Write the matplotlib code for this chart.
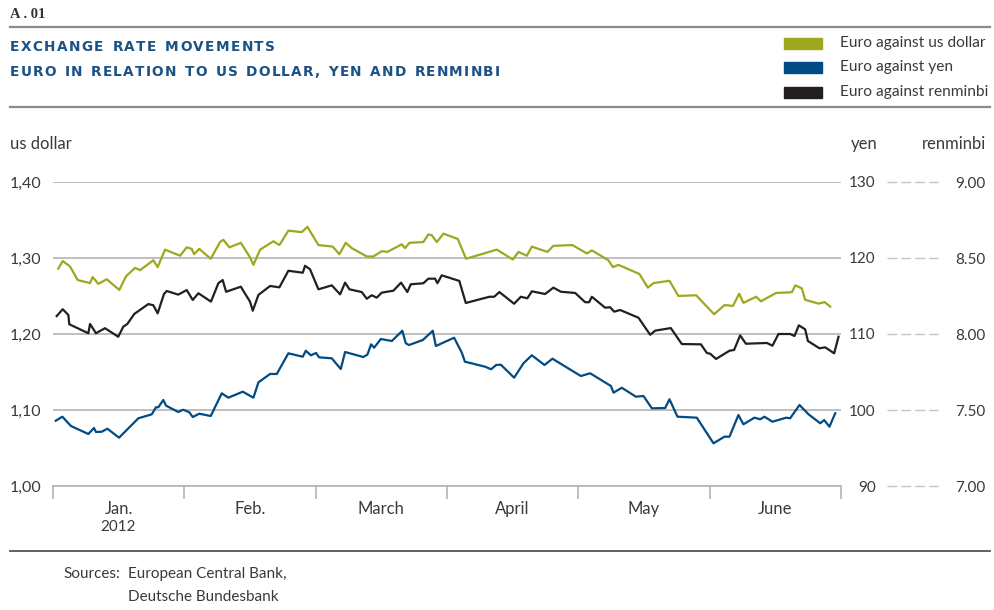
import matplotlib
matplotlib.use("Agg")
import matplotlib.pyplot as plt
import matplotlib.transforms as mtransforms
from matplotlib.patches import Rectangle
from matplotlib.lines import Line2D

# x positions in months from 1 Jan 2012 (0 = start of Jan, 6 = end of June)
x_usd = [0.040, 0.074, 0.129, 0.188, 0.282, 0.302, 0.345, 0.409, 0.505, 0.556,
         0.625, 0.663, 0.764, 0.797, 0.853, 0.967, 1.018, 1.056, 1.074, 1.114,
         1.201, 1.272, 1.297, 1.343, 1.430, 1.500, 1.526, 1.577, 1.678, 1.724,
         1.792, 1.894, 1.937, 2.021, 2.130, 2.180, 2.229, 2.275, 2.389, 2.439,
         2.503, 2.546, 2.656, 2.681, 2.714, 2.820, 2.858, 2.884, 2.922, 2.973,
         3.082, 3.145, 3.379, 3.501, 3.544, 3.608, 3.646, 3.765, 3.810, 3.955,
         4.065, 4.103, 4.229, 4.263, 4.305, 4.465, 4.529, 4.572, 4.694, 4.762,
         4.897, 5.034, 5.113, 5.177, 5.225, 5.257, 5.354, 5.390, 5.506, 5.626,
         5.652, 5.702, 5.727, 5.829, 5.875, 5.918]
usd = [1.286, 1.296, 1.289, 1.271, 1.267, 1.275, 1.266, 1.272, 1.258, 1.276,
       1.287, 1.284, 1.297, 1.288, 1.311, 1.303, 1.314, 1.312, 1.305, 1.312,
       1.299, 1.321, 1.324, 1.314, 1.320, 1.301, 1.291, 1.311, 1.322, 1.317,
       1.336, 1.334, 1.341, 1.317, 1.315, 1.305, 1.320, 1.313, 1.302, 1.302,
       1.309, 1.308, 1.318, 1.313, 1.320, 1.321, 1.331, 1.330, 1.321, 1.332,
       1.325, 1.299, 1.311, 1.298, 1.308, 1.303, 1.315, 1.308, 1.316, 1.317,
       1.306, 1.310, 1.297, 1.288, 1.291, 1.279, 1.261, 1.267, 1.270, 1.250,
       1.251, 1.226, 1.238, 1.237, 1.253, 1.241, 1.249, 1.243, 1.254, 1.255,
       1.264, 1.260, 1.245, 1.240, 1.242, 1.236]

x_jpy = [0.021, 0.071, 0.137, 0.269, 0.312, 0.327, 0.371, 0.414, 0.503, 0.650,
         0.752, 0.784, 0.802, 0.840, 0.861, 0.954, 0.992, 1.038, 1.064, 1.114,
         1.201, 1.285, 1.335, 1.445, 1.526, 1.564, 1.653, 1.704, 1.792, 1.902,
         1.925, 1.963, 2.003, 2.026, 2.123, 2.191, 2.224, 2.363, 2.394, 2.422,
         2.445, 2.496, 2.580, 2.660, 2.686, 2.711, 2.816, 2.892, 2.915, 3.054,
         3.113, 3.136, 3.290, 3.336, 3.374, 3.410, 3.511, 3.582, 3.646, 3.742,
         3.803, 4.019, 4.090, 4.248, 4.268, 4.331, 4.438, 4.496, 4.560, 4.661,
         4.694, 4.755, 4.902, 5.029, 5.113, 5.151, 5.219, 5.257, 5.341, 5.385,
         5.417, 5.478, 5.583, 5.613, 5.684, 5.753, 5.842, 5.872, 5.912, 5.956]
jpy = [98.59, 99.12, 97.89, 96.84, 97.63, 97.11, 97.14, 97.54, 96.36, 98.91,
       99.43, 100.36, 100.36, 101.32, 100.57, 99.74, 100.04, 99.70, 99.08, 99.51,
       99.21, 102.20, 101.62, 102.41, 101.62, 103.64, 104.74, 104.74, 107.46, 107.01,
       107.80, 107.20, 107.50, 106.93, 106.80, 105.39, 107.63, 106.97, 107.28, 108.64,
       108.20, 109.34, 109.08, 110.43, 108.78, 108.55, 109.21, 110.43, 108.42, 109.51,
       107.54, 106.36, 105.70, 105.36, 105.92, 105.96, 104.25, 106.14, 107.20, 105.92,
       106.75, 104.47, 104.83, 103.16, 102.28, 102.93, 101.75, 101.84, 100.22, 100.26,
       101.41, 99.12, 98.99, 95.62, 96.49, 96.49, 99.34, 98.12, 98.99, 98.78,
       99.12, 98.46, 98.99, 98.91, 100.66, 99.43, 98.25, 98.68, 97.80, 99.57]

x_cny = [0.028, 0.074, 0.117, 0.124, 0.269, 0.282, 0.327, 0.396, 0.497, 0.535,
         0.566, 0.619, 0.726, 0.764, 0.797, 0.845, 0.866, 0.954, 1.018, 1.064,
         1.107, 1.203, 1.259, 1.292, 1.318, 1.430, 1.500, 1.521, 1.564, 1.653,
         1.724, 1.792, 1.902, 1.919, 1.957, 2.021, 2.123, 2.186, 2.224, 2.257,
         2.351, 2.389, 2.427, 2.465, 2.503, 2.592, 2.650, 2.698, 2.724, 2.820,
         2.858, 2.909, 2.927, 2.960, 3.094, 3.143, 3.323, 3.359, 3.399, 3.511,
         3.562, 3.612, 3.646, 3.747, 3.810, 3.867, 3.976, 4.052, 4.082, 4.103,
         4.204, 4.242, 4.273, 4.318, 4.458, 4.547, 4.585, 4.704, 4.788, 4.933,
         4.979, 5.004, 5.049, 5.151, 5.186, 5.232, 5.276, 5.436, 5.478, 5.524,
         5.613, 5.646, 5.679, 5.727, 5.748, 5.836, 5.880, 5.948, 5.981]
cny = [8.118, 8.163, 8.125, 8.064, 8.005, 8.066, 8.005, 8.038, 7.982, 8.048,
       8.066, 8.132, 8.197, 8.189, 8.136, 8.263, 8.283, 8.259, 8.289, 8.224,
       8.268, 8.213, 8.334, 8.355, 8.278, 8.311, 8.213, 8.153, 8.257, 8.316,
       8.307, 8.416, 8.403, 8.449, 8.426, 8.294, 8.320, 8.261, 8.338, 8.294,
       8.276, 8.232, 8.255, 8.239, 8.272, 8.285, 8.338, 8.276, 8.327, 8.334,
       8.364, 8.364, 8.334, 8.386, 8.349, 8.204, 8.245, 8.245, 8.276, 8.199,
       8.245, 8.235, 8.281, 8.263, 8.305, 8.278, 8.270, 8.209, 8.209, 8.245,
       8.173, 8.176, 8.147, 8.158, 8.107, 7.995, 8.022, 8.039, 7.934, 7.932,
       7.875, 7.870, 7.836, 7.890, 7.895, 7.991, 7.936, 7.941, 7.923, 8.000,
       8.000, 7.987, 8.057, 8.031, 7.954, 7.906, 7.912, 7.873, 7.982]

months = ["Jan.", "Feb.", "March", "April", "May", "June"]
usd_ticks = [1.0, 1.1, 1.2, 1.3, 1.4]
usd_labels = ["1,00", "1,10", "1,20", "1,30", "1,40"]
jpy_ticks = [90, 100, 110, 120, 130]
cny_ticks = [7.0, 7.5, 8.0, 8.5, 9.0]
cny_labels = ["7.00", "7.50", "8.00", "8.50", "9.00"]
legend_labels = ["Euro against us dollar", "Euro against yen", "Euro against renminbi"]

GREEN = "#9da81e"
BLUE = "#004b84"
BLACK = "#231f20"
GRID = "#b4b4b4"
DASH = "#c4c4c4"
TXT = "#3a3a3a"
TITLE = "#1b5286"

plt.rcParams["font.family"] = ["Lato", "DejaVu Sans"]

W, H = 995, 610
fig = plt.figure(figsize=(W / 100, H / 100), dpi=100)


def fx(x):
    return x / W


def fy(y):
    return 1 - y / H


def spaced(x, y, s, target, **kw):
    # draw text char by char so the letter spacing matches the original width
    r = fig.canvas.get_renderer()
    arts, widths = [], []
    for ch in s:
        t = fig.text(0, fy(y), ch if ch != " " else "-", va="center", ha="left", **kw)
        w = t.get_window_extent(r).width
        if ch == " ":
            t.set_text("")
            w = w * 1.1
        arts.append(t)
        widths.append(w)
    gap = (target - sum(widths)) / (len(s) - 1)
    cx = x
    for t, w in zip(arts, widths):
        t.set_x(fx(cx))
        cx += w + gap


ax = fig.add_axes([fx(53), fy(486), fx(788), 304 / H])
ax_jpy = ax.twinx()
ax_cny = ax.twinx()

ax.plot(x_usd, usd, color=GREEN, lw=1.6)
ax_jpy.plot(x_jpy, jpy, color=BLUE, lw=1.6)
ax_cny.plot(x_cny, cny, color=BLACK, lw=1.6)

ax.set_xlim(0, 6)
ax.set_ylim(1.0, 1.4)
ax_jpy.set_ylim(90, 130)
ax_cny.set_ylim(7, 9)

for a in (ax, ax_jpy, ax_cny):
    for sp in a.spines.values():
        sp.set_visible(False)
ax.spines["bottom"].set_visible(True)
ax.spines["bottom"].set_color(GRID)
ax.spines["bottom"].set_linewidth(1.2)

ax.set_yticks(usd_ticks, labels=usd_labels)
ax.tick_params(axis="y", length=0, pad=31, labelsize=11.5, labelcolor=TXT)
for lb in ax.get_yticklabels():
    lb.set_horizontalalignment("left")
ax.yaxis.grid(True, color=GRID, lw=1.2)
ax.set_axisbelow(True)

ax_jpy.set_yticks(jpy_ticks)
ax_jpy.tick_params(axis="y", length=0, pad=25, labelsize=11, labelcolor=TXT)
for lb in ax_jpy.get_yticklabels():
    lb.set_horizontalalignment("right")

ax_cny.set_yticks(cny_ticks, labels=cny_labels)
ax_cny.tick_params(axis="y", length=0, pad=104, labelsize=11, labelcolor=TXT)
for lb in ax_cny.get_yticklabels():
    lb.set_horizontalalignment("right")

# dashed connectors between yen and renminbi scales
blend = mtransforms.blended_transform_factory(fig.transFigure, ax_jpy.transData)
for v in jpy_ticks:
    ax_jpy.add_line(Line2D([fx(887), fx(940)], [v, v], transform=blend, clip_on=False,
                           color=DASH, lw=1, ls=(0, (7, 3))))

ax.set_xticks(range(7), labels=[""] * 7)
ax.set_xticks([i + 0.5 for i in range(6)], labels=months, minor=True)
ax.tick_params(axis="x", which="major", length=9, width=1.2, color=GRID)
ax.tick_params(axis="x", which="minor", length=0, pad=10.5, labelsize=12, labelcolor=TXT)

fig.text(fx(118), fy(527), "2012", ha="center", va="center", fontsize=11, color=TXT)

# axis unit labels
fig.text(fx(10), fy(144), "us dollar", ha="left", va="center", fontsize=12, color=TXT)
fig.text(fx(864), fy(144), "yen", ha="center", va="center", fontsize=12, color=TXT)
fig.text(fx(986), fy(144), "renminbi", ha="right", va="center", fontsize=12, color=TXT)

# header
fig.text(fx(10), fy(15), "A . 01", ha="left", va="center", fontsize=10.5,
         family="Liberation Serif", weight="bold", color="#333333")
for yy in (27, 107):
    fig.add_artist(Line2D([fx(10), fx(990)], [fy(yy), fy(yy)], color="#8a8a8a", lw=1.6))
fig.add_artist(Line2D([fx(10), fx(990)], [fy(551), fy(551)], color="#555555", lw=1.3))

spaced(10, 47, "EXCHANGE RATE MOVEMENTS", 265, fontsize=9.8, family="DejaVu Sans",
       weight="bold", color=TITLE)
spaced(10, 72, "EURO IN RELATION TO US DOLLAR, YEN AND RENMINBI", 490,
       fontsize=9.8, family="DejaVu Sans", weight="bold", color=TITLE)

# legend
for i, (c, lab) in enumerate(zip([GREEN, BLUE, BLACK], legend_labels)):
    yc = 43 + i * 24.5
    fig.add_artist(Rectangle((fx(784), fy(yc + 5.5)), fx(38), 11 / H, color=c,
                             transform=fig.transFigure))
    fig.text(fx(840), fy(yc), lab, ha="left", va="center", fontsize=11.2, color=TXT)

# sources
fig.text(fx(63), fy(574), "Sources:", ha="left", va="center", fontsize=11, color=TXT)
fig.text(fx(128), fy(574), "European Central Bank,", ha="left", va="center", fontsize=11, color=TXT)
fig.text(fx(128), fy(597), "Deutsche Bundesbank", ha="left", va="center", fontsize=11, color=TXT)

fig.savefig("out.png", dpi=100)
